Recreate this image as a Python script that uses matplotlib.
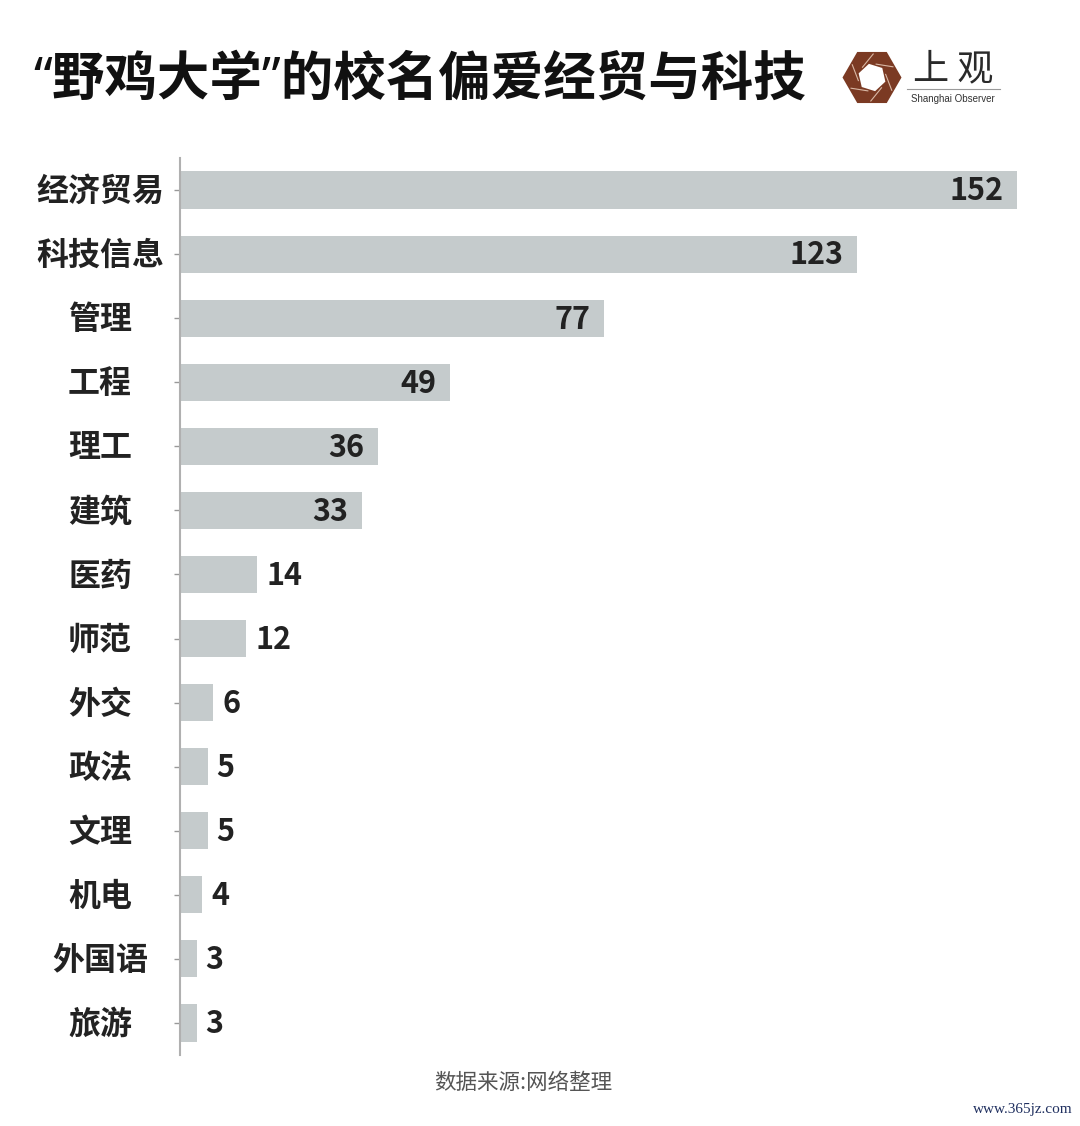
import numpy as np
import matplotlib
matplotlib.use('Agg')
import matplotlib.pyplot as plt
import matplotlib.transforms as mtransforms
from matplotlib.patches import RegularPolygon

plt.rcParams['font.family'] = ['Noto Sans CJK SC', 'DejaVu Sans']

# 数据
categories = ['经济贸易', '科技信息', '管理', '工程', '理工', '建筑', '医药',
              '师范', '外交', '政法', '文理', '机电', '外国语', '旅游']
counts = [152, 123, 77, 49, 36, 33, 14, 12, 6, 5, 5, 4, 3, 3]
title = '“野鸡大学”的校名偏爱经贸与科技'
source = '数据来源:网络整理'

W, H = 1080, 1126
fig = plt.figure(figsize=(W / 100, H / 100), dpi=100)
fig.patch.set_facecolor('white')

# 主图区 (像素换算)
ax_l, ax_r, ax_t, ax_b = 180, 1060, 158, 1055
ax = fig.add_axes([ax_l / W, 1 - ax_b / H, (ax_r - ax_l) / W, (ax_b - ax_t) / H])

y = np.arange(len(categories))
ax.barh(y, counts, height=0.58, color='#c5cbcc')
ax.set_ylim(len(categories) - 0.5, -0.5)
ax.set_xlim(0, (ax_r - ax_l) / 5.507)

for s in ['top', 'right', 'bottom']:
    ax.spines[s].set_visible(False)
ax.spines['left'].set_color('#b0b0b0')
ax.spines['left'].set_linewidth(1.5)
ax.set_xticks([])
ax.set_yticks(y)
ax.set_yticklabels([])
ax.tick_params(axis='y', length=4.5, width=1, color='#999999')

# 类别标签 居中对齐
trans = mtransforms.blended_transform_factory(ax.transAxes, ax.transData)
lab_x = (100 - ax_l) / (ax_r - ax_l)
for i, c in enumerate(categories):
    ax.annotate(c, (lab_x, i), xycoords=trans, xytext=(0, -1.5),
                textcoords='offset points', ha='center', va='center',
                fontsize=23, fontweight='bold', color='#222222')

# 数值标签
for i, v in enumerate(counts):
    if v >= 30:
        ax.annotate(str(v), (v, i), xytext=(-10, -1), textcoords='offset points',
                    ha='right', va='center', fontsize=22, fontweight='heavy',
                    color='#222222')
    else:
        ax.annotate(str(v), (v, i), xytext=(6.5, -1), textcoords='offset points',
                    ha='left', va='center', fontsize=22, fontweight='heavy',
                    color='#222222')

# 标题
fig.text(33 / W, 1 - 81 / H, title, ha='left', va='center', fontsize=37.8,
         fontweight='heavy', color='#111111',
         family=['Noto Sans', 'Noto Sans CJK SC'])

# 上观 logo
lg = fig.add_axes([830 / W, 1 - 115 / H, 180 / W, 75 / H])
lg.set_xlim(830, 1010)
lg.set_ylim(115, 40)
lg.axis('off')
lg.add_patch(RegularPolygon((872, 77.5), 6, radius=29.5, orientation=np.pi / 6,
                            facecolor='#7b3a23', edgecolor='none'))
lg.add_patch(RegularPolygon((872, 77.5), 6, radius=14, orientation=np.pi / 6 + 0.3,
                            facecolor='white', edgecolor='none'))
ang = np.pi / 6 + 0.3 + np.arange(6) * np.pi / 3
for a in ang:
    x0, y0 = 872 + 14 * np.cos(a), 77.5 + 14 * np.sin(a)
    x1, y1 = x0 + 17 * np.cos(a + np.pi / 2.2), y0 + 17 * np.sin(a + np.pi / 2.2)
    lg.plot([x0, x1], [y0, y1], color='#d9b8a5', lw=0.8)
lg.text(953, 69, '上 观', ha='center', va='center', fontsize=26,
        fontweight='medium', color='#2a2a2a')
lg.plot([907, 1000], [89, 89], color='#9a9a9a', lw=0.8)
lg.text(953, 98.5, 'Shanghai Observer', ha='center', va='center', fontsize=7,
        family='Liberation Sans', color='#333333')

# 来源
fig.text(523 / W, 1 - 1083 / H, source, ha='center', va='center', fontsize=15.5,
         color='#555555')
fig.text(1073 / W, 1 - 1110 / H, 'www.365jz.com', ha='right', va='center',
         fontsize=11, family='Liberation Serif', color='#1f2f5f')

fig.savefig('out.png', dpi=100, facecolor='white')
